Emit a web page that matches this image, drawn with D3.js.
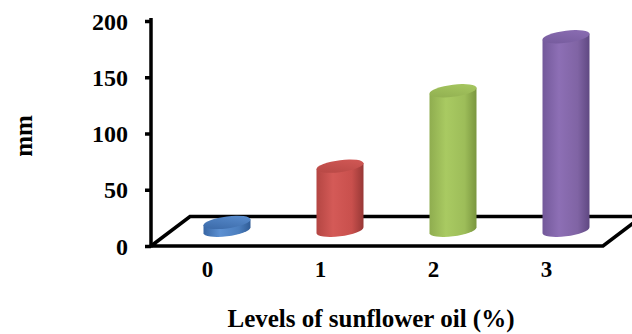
<!DOCTYPE html>
<html>
<head>
<meta charset="utf-8">
<script src="https://cdn.jsdelivr.net/npm/d3@7"></script>
<style>
  html, body { margin: 0; padding: 0; background: #fff; }
  svg { display: block; }
  text { font-family: "Liberation Serif", "Times New Roman", serif; font-weight: bold; fill: #000; }
</style>
</head>
<body>
<svg id="chart" width="632" height="334"></svg>
<script>
// Sunflower oil levels (%) and the measured length (mm)
const categories = ["0", "1", "2", "3"];
const values = [7, 57, 124, 172];
const yTicks = [0, 50, 100, 150, 200];
const barColors = [
  { dark: "#3866a4", light: "#5c90d2", edge: "#305c96", top: "#4b7ebe" },
  { dark: "#b44643", light: "#d45a57", edge: "#983836", top: "#c9504d" },
  { dark: "#8fad4f", light: "#a9ca62", edge: "#7a963f", top: "#9dbd59" },
  { dark: "#73599a", light: "#8d6fb5", edge: "#5f4882", top: "#8064a4" }
];

const svg = d3.select("#chart");

const x = d3.scaleBand().domain(categories).range([151, 603]).paddingInner(0).paddingOuter(0);
const y = d3.scaleLinear().domain([0, 200]).range([246, 21]);

// depth offset of the floor (front edge to back edge)
const depth = { dx: 39, dy: -29.5 };

// gradients for the cylinder bodies and tops
const defs = svg.append("defs");
barColors.forEach((c, i) => {
  const g = defs.append("linearGradient").attr("id", "body" + i)
    .attr("x1", "0%").attr("x2", "100%").attr("y1", "0%").attr("y2", "0%");
  g.append("stop").attr("offset", "0%").attr("stop-color", c.dark);
  g.append("stop").attr("offset", "35%").attr("stop-color", c.light);
  g.append("stop").attr("offset", "75%").attr("stop-color", c.top);
  g.append("stop").attr("offset", "100%").attr("stop-color", c.edge);
  const t = defs.append("linearGradient").attr("id", "top" + i)
    .attr("x1", "0%").attr("x2", "100%").attr("y1", "100%").attr("y2", "0%");
  t.append("stop").attr("offset", "0%").attr("stop-color", c.dark);
  t.append("stop").attr("offset", "100%").attr("stop-color", c.light);
});

// floor outline
const x0 = x.range()[0], x1 = x.range()[1], yf = y(0);
svg.append("path")
  .attr("d", `M${x0},${yf} L${x0 + depth.dx},${yf + depth.dy} L${x1 + depth.dx},${yf + depth.dy} L${x1},${yf} Z`)
  .attr("fill", "none").attr("stroke", "#000").attr("stroke-width", 3.5)
  .attr("stroke-linejoin", "miter");

// value axis
const yAxis = d3.axisLeft(y).tickValues(yTicks).tickSize(6).tickSizeOuter(0).tickPadding(17);
const ag = svg.append("g").attr("transform", `translate(${x0},0)`).call(yAxis);
ag.select(".domain").attr("stroke", "#000").attr("stroke-width", 3.5)
  .attr("d", `M0,${yf + 1.5}V18`);
ag.selectAll(".tick line").attr("stroke", "#000").attr("stroke-width", 3.5);
ag.selectAll(".tick text").attr("font-size", 24)
  .attr("dy", "0.34em").attr("fill", "#000");

// cylinders, standing at mid-depth of the floor
const rx = 23.5, ry = 6, skew = -7;
const bars = svg.append("g");
categories.forEach((cat, i) => {
  const cx = x(cat) + x.bandwidth() / 2 + depth.dx / 2;
  const yb = y(0) + depth.dy / 2 - 1;
  const h = y(0) - y(values[i]);
  const g = bars.append("g").attr("transform", `translate(${cx},${yb}) skewY(${skew})`);
  g.append("path")
    .attr("d", `M${-rx},${-h} L${-rx},0 A${rx},${ry} 0 0 0 ${rx},0 L${rx},${-h} Z`)
    .attr("fill", `url(#body${i})`);
  g.append("ellipse").attr("cx", 0).attr("cy", -h).attr("rx", rx).attr("ry", ry)
    .attr("fill", `url(#top${i})`);
});

// category labels
svg.append("g").selectAll("text").data(categories).join("text")
  .attr("x", d => x(d) + x.bandwidth() / 2)
  .attr("y", 277)
  .attr("text-anchor", "middle")
  .attr("font-size", 23)
  .text(d => d);

// axis titles
svg.append("text")
  .attr("x", 371).attr("y", 327)
  .attr("text-anchor", "middle")
  .attr("font-size", 25)
  .text("Levels of sunflower oil (%)");

svg.append("text")
  .attr("transform", "translate(32,136) rotate(-90)")
  .attr("text-anchor", "middle")
  .attr("font-size", 25)
  .text("mm");
</script>
</body>
</html>
